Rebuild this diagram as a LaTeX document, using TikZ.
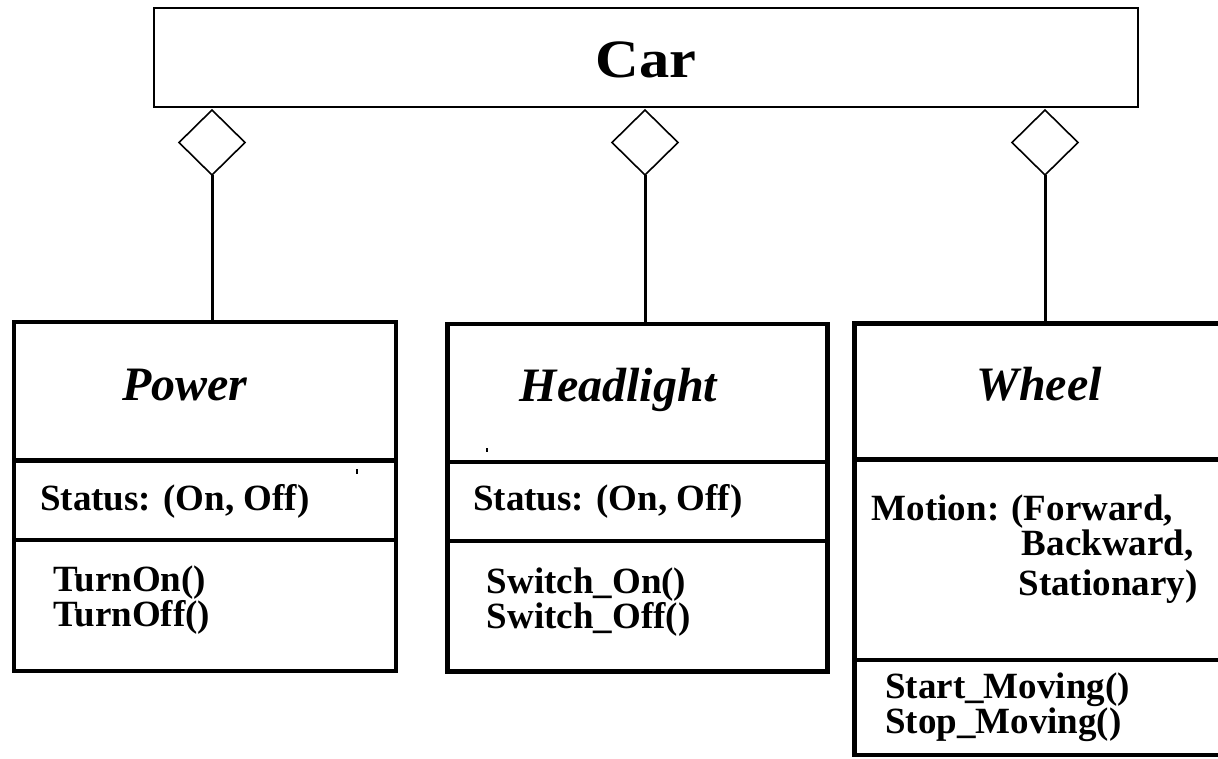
\documentclass[tikz,border=0pt]{standalone}
\usepackage{fontspec}
\setmainfont{Liberation Serif}
\usetikzlibrary{shapes.geometric}
\begin{document}
\begin{tikzpicture}[x=1pt,y=-1pt,
  box/.style={draw, line width=4.5pt, rectangle, inner sep=0pt, outer sep=0pt},
  diam/.style={draw, diamond, line width=1.6pt, inner sep=0pt, outer sep=0pt, minimum width=66pt, minimum height=65pt},
  conn/.style={line width=3pt},
  cname/.style={font=\fontsize{48}{48}\selectfont\bfseries\itshape, inner sep=0pt, anchor=base},
  ctext/.style={font=\fontsize{37}{35}\selectfont\bfseries, inner sep=0pt, anchor=base west},
  tick/.style={line width=1.2pt}
]
\useasboundingbox (0,0) rectangle (1218,758);
\fill[white] (0,0) rectangle (1218,758);

% Car
\node[draw, line width=2pt, inner sep=0pt, outer sep=0pt, minimum width=983.7pt, minimum height=98.7pt] (car) at (645.85,57.65) {};
\node[font=\fontsize{54}{54}\selectfont\bfseries, inner sep=0pt, anchor=base] (carlabel) at (646,77) {\scalebox{1.12}[1]{Car}};

% diamonds
\node[diam] (d1) at (212,142.5) {};
\node[diam] (d2) at (645,142.5) {};
\node[diam] (d3) at (1045,142.5) {};

% Power
\node[box, minimum width=382pt, minimum height=138.5pt] (pname) at (205,391.25) {};
\node[box, minimum width=382pt, minimum height=79.5pt] (pattr) at (205,500.25) {};
\node[box, minimum width=382pt, minimum height=131pt] (pops) at (205,605.5) {};
% Headlight
\node[box, minimum width=380pt, minimum height=138pt] (hname) at (637.5,393) {};
\node[box, minimum width=380pt, minimum height=79pt] (hattr) at (637.5,501.5) {};
\node[box, minimum width=380pt, minimum height=130.5pt] (hops) at (637.5,606.25) {};
% Wheel
\node[box, minimum width=385.5pt, minimum height=136pt] (wname) at (1047.25,391.5) {};
\node[box, minimum width=385.5pt, minimum height=200.5pt] (wattr) at (1047.25,559.75) {};
\node[box, minimum width=385.5pt, minimum height=95pt] (wops) at (1047.25,707.5) {};

% connectors
\draw[conn] (d1.south) -- (d1.south |- pname.north);
\draw[conn] (d2.south) -- (d2.south |- hname.north);
\draw[conn] (d3.south) -- (d3.south |- wname.north);

% class names
\node[cname] (powerlbl) at (185,400) {Power};
\node[cname] (headlbl) at (618.5,401) {Headlight};
\node[cname] (wheellbl) at (1039,400) {Wheel};

% attributes
\node[ctext] (pst) at (40,510) {Status: (On, Off)};
\node[ctext] (hst) at (473,510.5) {Status: (On, Off)};
\node[ctext] (wat1) at (871.7,520.7) {Motion: (Forward,};
\node[ctext] (wat2) at (1021.7,555) {Backward,};
\node[ctext] (wat3) at (1018.3,595) {Stationary)};

% operations
\node[ctext] (pop1) at (53,591.7) {TurnOn()};
\node[ctext] (pop2) at (53,626) {TurnOff()};
\node[ctext] (hop1) at (486.7,593.3) {Switch\_On()};
\node[ctext] (hop2) at (486.7,628.3) {Switch\_Off()};
\node[ctext] (wop1) at (885,698.3) {Start\_Moving()};
\node[ctext] (wop2) at (885,733.3) {Stop\_Moving()};

% small stray marks
\draw[tick] (357,469) -- (357,474);
\draw[tick] (487,448) -- (487,452);
\end{tikzpicture}
\end{document}
